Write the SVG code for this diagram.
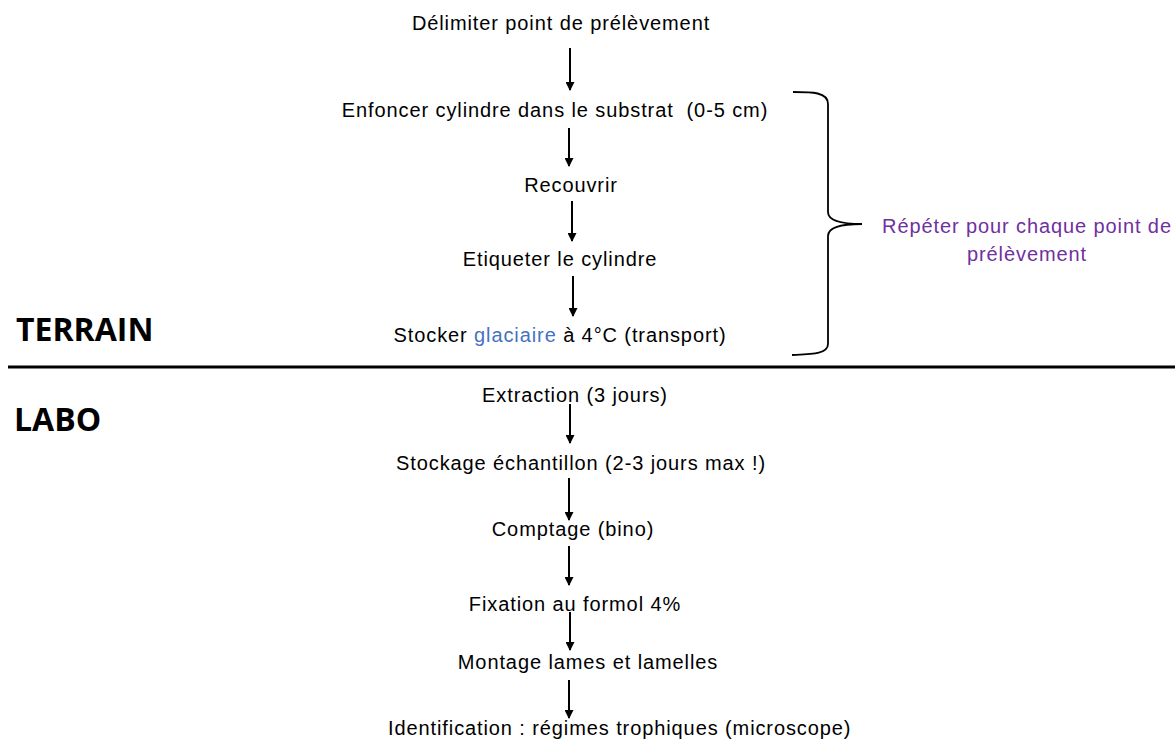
<svg xmlns="http://www.w3.org/2000/svg" width="1175" height="740" viewBox="0 0 1175 740">
<style>
.t{font-family:"Liberation Sans",Arial,sans-serif;font-size:20px;letter-spacing:0.9px;fill:#000;text-anchor:middle;white-space:pre}
.p{fill:#7030A0}
.b{fill:#4472C4}
.h{font-family:"Open Sans","Liberation Sans",sans-serif;font-weight:700;font-size:32px;fill:#000}
.c line{stroke:#000;stroke-width:2}
</style>
<defs>
<marker id="ah" viewBox="0 0 10 10" refX="9" refY="5" markerWidth="5" markerHeight="4.5" orient="auto" markerUnits="strokeWidth">
<path d="M0,0 L10,5 L0,10 z" fill="#000"/>
</marker>
</defs>
<rect width="1175" height="740" fill="#fff"/>
<g id="sep"><line x1="8" y1="367" x2="1175" y2="367" stroke="#000" stroke-width="3"/></g>
<g id="terrain"><text class="h" x="16" y="341">TERRAIN</text></g>
<g id="labo"><text class="h" x="14" y="431">LABO</text></g>
<g id="n1"><text class="t" x="561" y="30">Délimiter point de prélèvement</text></g>
<g id="n2"><text class="t" x="555" y="117">Enfoncer cylindre dans le substrat  (0-5 cm)</text></g>
<g id="n3"><text class="t" x="571" y="192">Recouvrir</text></g>
<g id="n4"><text class="t" x="560" y="266">Etiqueter le cylindre</text></g>
<g id="n5"><text class="t" x="560" y="342">Stocker <tspan class="b">glaciaire</tspan> à 4°C (transport)</text></g>
<g id="n6"><text class="t" x="575" y="402">Extraction (3 jours)</text></g>
<g id="n7"><text class="t" x="581" y="470">Stockage échantillon (2-3 jours max !)</text></g>
<g id="n8"><text class="t" x="573" y="536">Comptage (bino)</text></g>
<g id="n9"><text class="t" x="575" y="611">Fixation au formol 4%</text></g>
<g id="n10"><text class="t" x="588" y="669">Montage lames et lamelles</text></g>
<g id="n11"><text class="t" x="388" y="735" style="text-anchor:start">Identification : régimes trophiques (microscope)</text></g>
<g id="repeat">
<path d="M793,92 C812,92 828,92 828,104 L828,212 C828,220 838,224 862,224 C838,224 828,228 828,236 L828,344 C828,354 812,354 792,355" fill="none" stroke="#000" stroke-width="1.8"/>
<text class="t p" x="1027" y="233">Répéter pour chaque point de</text>
<text class="t p" x="1027" y="261">prélèvement</text>
</g>
<g id="connectors" class="c">
<line x1="570" y1="48" x2="570" y2="90" marker-end="url(#ah)"/>
<line x1="569" y1="128" x2="569" y2="166" marker-end="url(#ah)"/>
<line x1="572" y1="201" x2="572" y2="241" marker-end="url(#ah)"/>
<line x1="573" y1="276" x2="573" y2="316" marker-end="url(#ah)"/>
<line x1="570" y1="404" x2="570" y2="443" marker-end="url(#ah)"/>
<line x1="569" y1="478" x2="569" y2="520" marker-end="url(#ah)"/>
<line x1="569" y1="546" x2="569" y2="585" marker-end="url(#ah)"/>
<line x1="570" y1="612" x2="570" y2="650" marker-end="url(#ah)"/>
<line x1="569" y1="680" x2="569" y2="718" marker-end="url(#ah)"/>
</g>
</svg>
